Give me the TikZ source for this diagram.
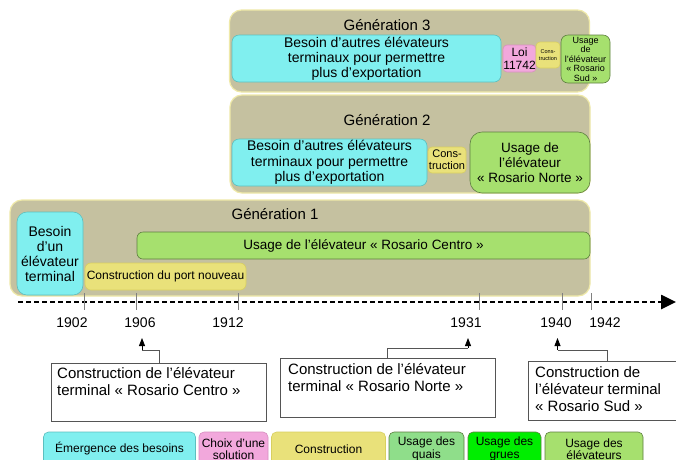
\documentclass[tikz,border=0pt]{standalone}
\usepackage{fontspec}
\setmainfont{Liberation Sans}
\usetikzlibrary{arrows.meta}
\definecolor{tanbg}{HTML}{C5C1A0}
\definecolor{tanline}{HTML}{EFE9A8}
\definecolor{cyanf}{HTML}{80EFEF}
\definecolor{cyand}{HTML}{5CBFBF}
\definecolor{greenf}{HTML}{A6E06E}
\definecolor{greend}{HTML}{5E7F40}
\definecolor{yellowf}{HTML}{E9E17A}
\definecolor{yellowd}{HTML}{D8CF60}
\definecolor{pinkf}{HTML}{F2A8DC}
\definecolor{pinkd}{HTML}{D890C0}
\definecolor{quaisf}{HTML}{8FDE8A}
\definecolor{gruesf}{HTML}{00EE00}
\definecolor{boxd}{HTML}{555555}
\tikzset{
  genbox/.style={draw=tanline, fill=tanbg, line width=1.2pt, rounded corners=12pt, inner sep=0pt},
  box/.style={rounded corners=7pt, inner sep=0pt, align=center, line width=0.6pt},
  cyanbox/.style={box, draw=cyand, fill=cyanf},
  greenbox/.style={box, draw=greend, fill=greenf},
  yellowbox/.style={box, draw=yellowd, fill=yellowf},
  pinkbox/.style={box, draw=pinkd, fill=pinkf},
  gtitle/.style={font=\fontsize{15}{17}\selectfont, inner sep=0pt},
  year/.style={font=\fontsize{14}{16}\selectfont, inner sep=0pt},
  callout/.style={draw=boxd, line width=0.8pt, fill=white, inner sep=0pt},
  ctext/.style={font=\fontsize{15}{17}\selectfont, align=left, anchor=north west, inner sep=0pt},
  conn/.style={draw=boxd, line width=0.8pt, -{Triangle[length=8pt,width=6pt]}, black},
  tick/.style={draw=gray, line width=0.6pt},
  legend/.style={box, rounded corners=5pt, font=\fontsize{12}{12.5}\selectfont, minimum height=34pt}
}
\begin{document}
\begin{tikzpicture}[x=1pt,y=-1pt]
\useasboundingbox (0,0) rectangle (676,459);
\clip (0,0) rectangle (676,459);
\fill[white] (0,0) rectangle (676,459);

% Generation 3
\node[genbox, minimum width=360pt, minimum height=82pt] (g3) at (409.5,51) {};
\node[gtitle] (g3t) at (387,25) {Génération 3};
\node[cyanbox, minimum width=269pt, minimum height=47pt, font=\fontsize{14}{15}\selectfont] (b3) at (366.5,58.5)
  {Besoin d'autres élévateurs\\terminaux pour permettre\\plus d’exportation};
\node[pinkbox, rounded corners=4pt, minimum width=33pt, minimum height=27pt, font=\fontsize{12}{13}\selectfont] (l3) at (519.5,58.5) {Loi\\11742};
\node[yellowbox, rounded corners=4pt, minimum width=24pt, minimum height=26pt, font=\fontsize{5.5}{7}\selectfont] (c3) at (548,55) {Cons-\\truction};
\node[greenbox, minimum width=49pt, minimum height=48pt, font=\fontsize{9}{9.5}\selectfont] (u3) at (585.5,59)
  {Usage\\de\\l'élévateur\\« Rosario\\Sud »};

% Generation 2
\node[genbox, minimum width=360pt, minimum height=98pt] (g2) at (410,144) {};
\node[gtitle] (g2t) at (387,120) {Génération 2};
\node[cyanbox, minimum width=195pt, minimum height=47pt, font=\fontsize{14}{15.5}\selectfont] (b2) at (329.5,162.5)
  {Besoin d'autres élévateurs\\terminaux pour permettre\\plus d’exportation};
\node[yellowbox, rounded corners=4pt, minimum width=38pt, minimum height=26pt, font=\fontsize{11}{12}\selectfont] (c2) at (447,160) {Cons-\\truction};
\node[greenbox, rounded corners=12pt, minimum width=120pt, minimum height=61pt, font=\fontsize{13.5}{15}\selectfont] (u2) at (530,162.5)
  {Usage de\\l'élévateur\\« Rosario Norte »};

% Generation 1
\node[genbox, minimum width=580pt, minimum height=96pt] (g1) at (300,248) {};
\node[gtitle] (g1t) at (275,214) {Génération 1};
\node[cyanbox, rounded corners=10pt, minimum width=66pt, minimum height=83pt, font=\fontsize{14}{15}\selectfont] (b1) at (50,253.5)
  {Besoin\\d'un\\élévateur\\terminal};
\node[greenbox, rounded corners=6pt, minimum width=453pt, minimum height=27pt, font=\fontsize{13.5}{15}\selectfont] (u1) at (363.5,245.5)
  {Usage de l'élévateur « Rosario Centro »};
\node[yellowbox, rounded corners=6pt, minimum width=161pt, minimum height=27pt, font=\fontsize{12}{14}\selectfont] (c1) at (165.5,276.5)
  {Construction du port nouveau};

% Timeline
\coordinate (tlA) at (18,302);
\coordinate (tlB) at (676,302);
\draw[line width=2.6pt, dash pattern=on 5pt off 3pt, -{Triangle[length=15pt,width=14pt]}] (tlA) -- (tlB);
\foreach \x/\n in {84/1902,136/1906,238/1912,479/1931,562/1940,591/1942}{
  \coordinate (t\n) at (\x,293);
  \draw[tick] (t\n) -- ++(0,17);
}
\node[year] (y1902) at (72,323) {1902};
\node[year] (y1906) at (140,323) {1906};
\node[year] (y1912) at (228,323) {1912};
\node[year] (y1931) at (466,323) {1931};
\node[year] (y1940) at (556,323) {1940};
\node[year] (y1942) at (605,323) {1942};

% Callouts
\node[callout, minimum width=215pt, minimum height=58pt] (k1) at (158.5,392) {};
\node[ctext] (k1t) at (57,367) {Construction de l'élévateur\\terminal « Rosario Centro »};
\coordinate (a1) at (142,338);
\coordinate (m1) at (142,350);
\draw[boxd, line width=0.8pt] ([xshift=1pt]k1.north) |- (m1);
\draw[conn] (m1) -- (a1);

\node[callout, minimum width=215pt, minimum height=59pt] (k2) at (387.5,387.5) {};
\node[ctext] (k2t) at (288,363) {Construction de l'élévateur\\terminal « Rosario Norte »};
\coordinate (a2) at (468,338);
\coordinate (m2) at (468,348);
\draw[boxd, line width=0.8pt] (k2.north) |- (m2);
\draw[conn] (m2) -- (a2);

\node[callout, minimum width=160pt, minimum height=59pt] (k3) at (608.5,390.5) {};
\node[ctext] (k3t) at (535,366) {Construction de\\l'élévateur terminal\\« Rosario Sud »};
\coordinate (a3) at (557.5,338);
\coordinate (m3) at (557.5,350);
\coordinate (s3) at (607,361);
\draw[boxd, line width=0.8pt] (s3) |- (m3);
\draw[conn] (m3) -- (a3);

% Legend
\node[legend, draw=cyand, fill=cyanf, minimum width=152pt] (lg1) at (119.5,449) {Émergence des besoins};
\node[legend, draw=pinkd, fill=pinkf, minimum width=69pt] (lg2) at (233.5,449) {Choix d'une\\solution};
\node[legend, draw=yellowd, fill=yellowf, minimum width=114pt] (lg3) at (328.5,449) {Construction};
\node[legend, draw=greend, fill=quaisf, minimum width=75pt] (lg4) at (426.5,449) {Usage des\\quais};
\node[legend, draw=greend, fill=gruesf, minimum width=73pt] (lg5) at (504.5,449) {Usage des\\grues};
\node[legend, draw=greend, fill=greenf, minimum width=98pt] (lg6) at (594,449) {Usage des\\élévateurs};
\end{tikzpicture}
\end{document}
